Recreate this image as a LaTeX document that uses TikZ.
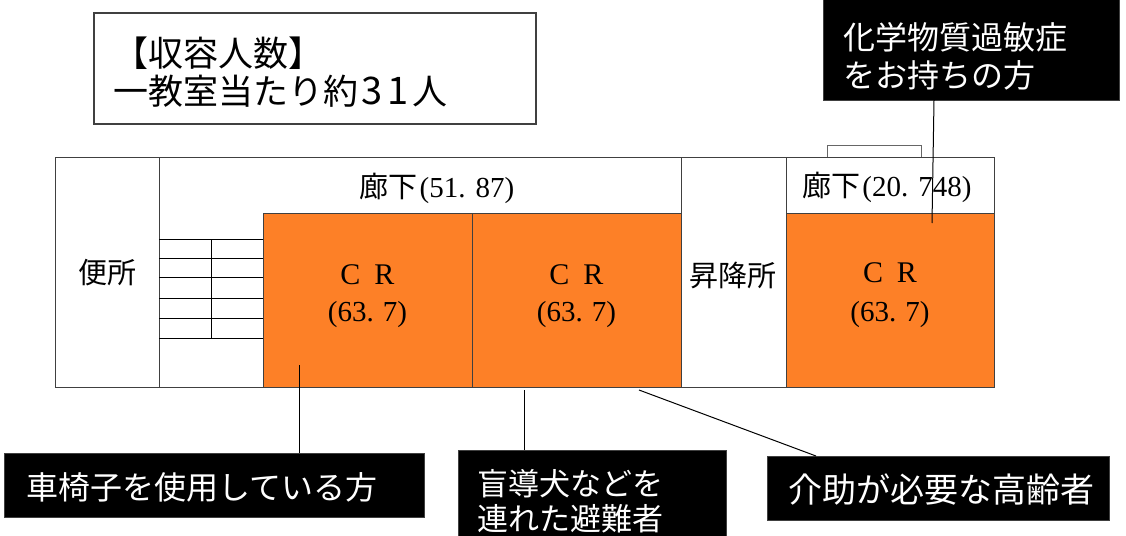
\documentclass[tikz,border=0pt]{standalone}
\usepackage{fontspec}
\newfontfamily\jp{Noto Sans CJK JP}
\newfontfamily\ser{Liberation Serif}
\definecolor{crorange}{RGB}{253,128,39}
\definecolor{wall}{RGB}{64,64,64}
\begin{document}
\begin{tikzpicture}[x=1pt,y=-1pt,
  wallline/.style={draw=wall,line width=1pt},
  crroom/.style={wallline,fill=crorange},
  stairline/.style={draw=black,line width=0.9pt},
  plantext/.style={inner sep=0pt,font=\fontsize{29}{30}\selectfont},
  jplabel/.style={inner sep=0pt,font=\jp\fontsize{29}{30}\selectfont},
  blackbox/.style={fill=black,draw=black!75,line width=0.8pt,inner sep=0pt,outer sep=0pt,anchor=north west},
  boxtext/.style={inner sep=0pt,anchor=west,align=left,text=white},
  infobox/.style={draw=wall,line width=1.2pt,fill=white,inner sep=0pt,outer sep=0pt,anchor=north west},
  leader/.style={draw=black,line width=1pt}]
\useasboundingbox (0,0) rectangle (1126,535);
\fill[white] (0,0) rectangle (1126,535);

% building
\draw[wallline] (55,157) rectangle (994,387);
\draw[wallline] (159,157) -- (159,387);
\draw[wallline] (681,157) -- (681,387);
\draw[wallline] (786,157) -- (786,387);
\draw[crroom] (263,213) rectangle (472,387);
\draw[crroom] (472,213) rectangle (681,387);
\draw[crroom] (786,213) rectangle (994,387);
\draw[wallline,draw=wall!80] (827,157) -- (827,145) -- (921,145) -- (921,157);

% stairs
\foreach \yy in {239.3,258,277.7,298.7,318.3,338} {
  \draw[stairline] (159,\yy) -- (263,\yy);
}
\draw[stairline] (211.7,239.3) -- (211.7,338);

% plan labels
\node[jplabel] (toilet) at (107.5,273) {便所};
\node[jplabel] (lift) at (733,275) {昇降所};
\node[plantext] (corr1) at (437,188) {\jp 廊下\ser\hspace{2pt}(51.\hspace{10pt}87)};
\node[plantext] (corr2) at (887,187) {\jp 廊下\ser\hspace{2pt}(20.\hspace{10pt}748)};
\node[plantext,font=\ser\fontsize{30}{30}\selectfont] (cr1a) at (367.5,275) {C\hspace{14pt}R};
\node[plantext,font=\ser\fontsize{29}{30}\selectfont] (cr1b) at (367.5,315) {(63.\hspace{9pt}7)};
\node[plantext,font=\ser\fontsize{30}{30}\selectfont] (cr2a) at (576.5,275) {C\hspace{14pt}R};
\node[plantext,font=\ser\fontsize{29}{30}\selectfont] (cr2b) at (576.5,315) {(63.\hspace{9pt}7)};
\node[plantext,font=\ser\fontsize{30}{30}\selectfont] (cr3a) at (890,273) {C\hspace{14pt}R};
\node[plantext,font=\ser\fontsize{29}{30}\selectfont] (cr3b) at (890,315) {(63.\hspace{9pt}7)};

% info box
\node[infobox,minimum width=442pt,minimum height=111pt] (info) at (94,13) {};
\node[inner sep=0pt,anchor=west,align=left,font=\jp\fontsize{35}{38}\selectfont] (infotext) at (113,72)
  {【収容人数】\\一教室当たり約\hspace{3pt}{\fontsize{38}{38}\selectfont 3\hspace{5pt}1}\hspace{4pt}人};

% callout boxes
\node[blackbox,minimum width=296pt,minimum height=104pt] (chem) at (823,-4) {};
\node[boxtext,font=\jp\fontsize{32}{38}\selectfont] (chemtext) at (843,56) {化学物質過敏症\\をお持ちの方};

\node[blackbox,minimum width=420pt,minimum height=64pt] (wheel) at (4,453) {};
\node[boxtext,font=\jp\fontsize{32}{38}\selectfont] (wheeltext) at (26,487) {車椅子を使用している方};

\node[blackbox,minimum width=268pt,minimum height=110pt] (guide) at (458,450) {};
\node[boxtext,font=\jp\fontsize{31}{35}\selectfont] (guidetext) at (477,501) {盲導犬などを\\連れた避難者};

\node[blackbox,minimum width=342pt,minimum height=64pt] (elder) at (767,456) {};
\node[boxtext,font=\jp\fontsize{34}{38}\selectfont] (eldertext) at (788,490) {介助が必要な高齢者};

% leaders
\coordinate (c1) at (299,365);
\coordinate (c2) at (524,390);
\coordinate (c3) at (639,390);
\coordinate (c4) at (932,223);
\draw[leader] (c1) -- (c1 |- wheel.north);
\draw[leader] (c2) -- (c2 |- guide.north);
\draw[leader] (c3) -- ([xshift=49pt]elder.north west);
\draw[leader] (c4) -- ([xshift=111pt]chem.south west);
\end{tikzpicture}
\end{document}
